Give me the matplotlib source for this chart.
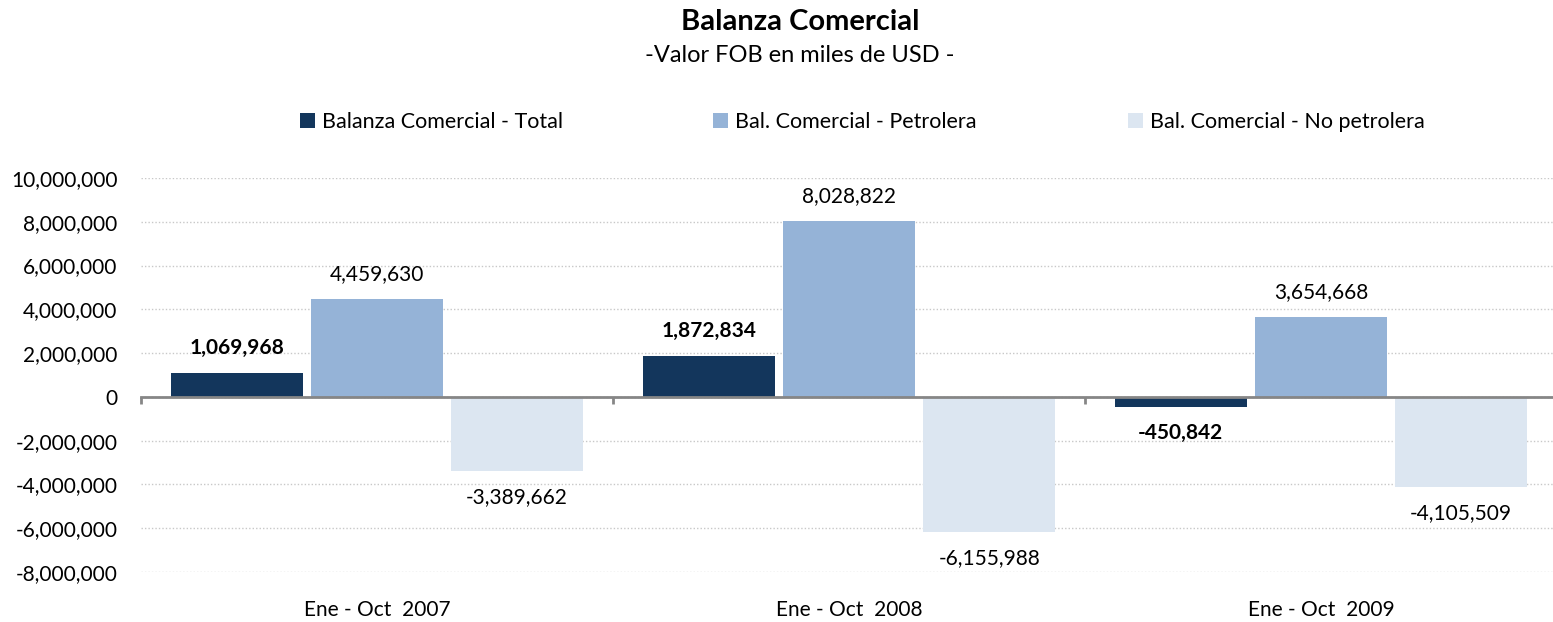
import matplotlib
matplotlib.use('Agg')
import matplotlib.pyplot as plt
import numpy as np
from matplotlib.patches import Patch
from matplotlib.ticker import FuncFormatter, MultipleLocator

plt.rcParams['font.family'] = ['Lato', 'DejaVu Sans']

# data (miles de USD)
periods = ['Ene - Oct  2007', 'Ene - Oct  2008', 'Ene - Oct  2009']
series_names = ['Balanza Comercial - Total', 'Bal. Comercial - Petrolera',
                'Bal. Comercial - No petrolera']
total = [1069968, 1872834, -450842]
petrolera = [4459630, 8028822, 3654668]
no_petrolera = [-3389662, -6155988, -4105509]

colors = ['#13365C', '#95B3D7', '#DCE6F1']
W, H = 1553, 622

fig = plt.figure(figsize=(W / 100, H / 100), dpi=100)
ax = fig.add_axes([141 / W, 1 - 572 / H, (1557 - 141) / W, (572 - 178) / H])

x = np.arange(len(periods))
width = 0.28
step = 0.297
for i, (vals, c) in enumerate(zip([total, petrolera, no_petrolera], colors)):
    bars = ax.bar(x + (i - 1) * step, vals, width, color=c, zorder=3)
    for b, v in zip(bars, vals):
        off = 18 if v >= 0 else -19
        ax.annotate(f'{v:,}', (b.get_x() + b.get_width() / 2, v), xytext=(0, off),
                    textcoords='offset points', ha='center', va='center',
                    fontsize=15, fontweight='bold' if i == 0 else 'normal',
                    color='black')

ax.set_xlim(-0.5, 2.5)
ax.set_ylim(-8e6, 10e6)
ax.yaxis.set_major_locator(MultipleLocator(2e6))
ax.yaxis.set_major_formatter(FuncFormatter(lambda v, p: f'{v:,.0f}'))
ax.yaxis.grid(True, linestyle=(0, (1, 1.5)), color='#C8C8C8', linewidth=1.0, zorder=0)
ax.set_axisbelow(True)

for s in ['left', 'top', 'right']:
    ax.spines[s].set_visible(False)
ax.spines['bottom'].set_position(('data', 0))
ax.spines['bottom'].set_color('#868686')
ax.spines['bottom'].set_linewidth(2)
ax.spines['bottom'].set_zorder(4)

ax.set_xticks([-0.5, 0.5, 1.5, 2.5])
ax.set_xticklabels([])
ax.tick_params(axis='x', direction='out', length=5, width=2, color='#868686')
ax.tick_params(axis='y', length=0, pad=17, labelsize=15)

for xi, lab in zip(x, periods):
    ax.text(xi, -0.0965, lab, transform=ax.get_xaxis_transform(),
            ha='center', va='center', fontsize=15)

# legend entries placed like the Excel legend
leg_x = [300, 713, 1128]
for name, c, lx in zip(series_names, colors, leg_x):
    fig.legend(handles=[Patch(facecolor=c, edgecolor='none')], labels=[name],
               loc='center left', bbox_to_anchor=(lx / W, 1 - 122 / H),
               frameon=False, borderpad=0, borderaxespad=0, fontsize=15.5,
               handlelength=0.7, handleheight=0.65, handletextpad=0.33)

fig.text(800 / W, 1 - 22 / H, 'Balanza Comercial', ha='center', va='center',
         fontsize=21, fontweight='bold')
fig.text(800 / W, 1 - 56 / H, '-Valor FOB en miles de USD -', ha='center',
         va='center', fontsize=17)

fig.savefig('out.png', dpi=100)
